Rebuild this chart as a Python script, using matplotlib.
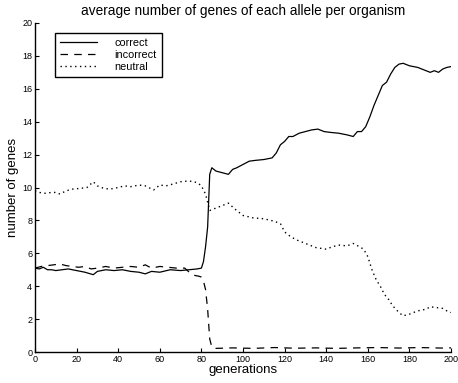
import matplotlib
matplotlib.use("Agg")
import matplotlib.pyplot as plt

# values (generation, average number of genes)
correct_gen = [0, 2, 4, 6, 8, 10, 13, 16, 20, 24, 28, 30, 34, 38, 42, 46, 50, 53, 56, 60,
               65, 70, 74, 78, 80, 81, 82, 83, 84, 85, 87, 90, 93, 95, 97, 100, 103, 106,
               110, 114, 116, 118, 120, 122, 124, 127, 130, 133, 136, 139, 142, 146, 150,
               153, 155, 157, 159, 161, 163, 165, 167, 169, 171, 173, 175, 177, 180, 184,
               188, 190, 192, 194, 196, 198, 200]
correct_val = [5.1, 5.05, 5.15, 5.0, 5.0, 4.95, 5.0, 5.05, 4.95, 4.85, 4.7, 4.9, 5.0, 4.95,
               5.0, 4.9, 4.85, 4.75, 4.9, 4.85, 5.0, 4.95, 5.0, 5.05, 5.1, 5.5, 6.4, 7.6,
               10.8, 11.2, 11.0, 10.9, 10.8, 11.1, 11.2, 11.4, 11.6, 11.65, 11.7, 11.8, 12.1,
               12.6, 12.8, 13.1, 13.1, 13.3, 13.4, 13.5, 13.55, 13.4, 13.35, 13.3, 13.2, 13.1,
               13.4, 13.4, 13.7, 14.3, 15.0, 15.6, 16.2, 16.4, 16.9, 17.3, 17.5, 17.55, 17.4,
               17.3, 17.1, 17.0, 17.1, 17.0, 17.2, 17.3, 17.35]

incorrect_gen = [0, 3, 6, 9, 12, 15, 18, 21, 24, 27, 30, 34, 38, 42, 46, 50, 53, 56, 60, 64,
                 68, 72, 75, 77, 79, 80, 81, 82, 83, 84, 85, 87, 95, 105, 115, 125, 135, 145,
                 155, 165, 175, 185, 195, 200]
incorrect_val = [5.1, 5.2, 5.25, 5.3, 5.35, 5.25, 5.2, 5.15, 5.2, 5.05, 5.1, 5.2, 5.1, 5.15,
                 5.2, 5.15, 5.3, 5.1, 5.2, 5.15, 5.1, 5.1, 4.75, 4.65, 4.6, 4.55, 4.3, 3.8,
                 2.6, 0.8, 0.3, 0.22, 0.25, 0.22, 0.27, 0.23, 0.25, 0.22, 0.25, 0.27, 0.24,
                 0.27, 0.24, 0.25]

neutral_gen = [0, 2, 5, 8, 10, 12, 15, 18, 22, 25, 28, 30, 33, 36, 40, 43, 46, 50, 53, 57,
               60, 63, 66, 70, 74, 78, 80, 82, 83, 84, 86, 90, 93, 96, 100, 105, 110, 115,
               118, 120, 123, 126, 130, 135, 140, 143, 146, 150, 153, 156, 158, 160, 162,
               164, 166, 168, 170, 172, 175, 177, 180, 184, 188, 190, 193, 196, 198, 200]
neutral_val = [9.8, 9.7, 9.65, 9.7, 9.7, 9.6, 9.8, 9.9, 9.95, 10.0, 10.35, 10.1, 9.95, 9.9,
               10.0, 10.1, 10.05, 10.15, 10.1, 9.85, 10.15, 10.1, 10.2, 10.35, 10.4, 10.3,
               10.1, 9.6, 9.1, 8.6, 8.7, 8.9, 9.05, 8.7, 8.3, 8.15, 8.1, 7.95, 7.8, 7.3, 7.0,
               6.8, 6.6, 6.35, 6.25, 6.4, 6.5, 6.45, 6.6, 6.4, 6.25, 5.8, 5.0, 4.4, 4.0, 3.5,
               3.2, 2.8, 2.4, 2.2, 2.3, 2.5, 2.6, 2.75, 2.7, 2.65, 2.5, 2.4]

x_ticks = list(range(0, 201, 20))
y_ticks = list(range(0, 21, 2))

plt.rcParams["font.family"] = ["Liberation Sans", "DejaVu Sans"]

fig = plt.figure(figsize=(4.58, 3.83), dpi=100)
ax = fig.add_axes([35 / 458, 1 - 352 / 383, 416 / 458, 329 / 383])

ax.plot(correct_gen, correct_val, color="black", lw=0.9, linestyle="-", label="correct")
ax.plot(incorrect_gen, incorrect_val, color="black", lw=0.9, linestyle=(0, (6, 5)), label="incorrect")
ax.plot(neutral_gen, neutral_val, color="black", lw=1.0, linestyle=(0, (1, 2.5)), label="neutral")

ax.set_xlim(0, 200)
ax.set_ylim(0, 20)
ax.set_xticks(x_ticks)
ax.set_yticks(y_ticks)
ax.tick_params(direction="in", length=3, labelsize=6.5, width=0.8, pad=2)
for side in ["top", "right"]:
    ax.spines[side].set_visible(False)
for side in ["left", "bottom"]:
    ax.spines[side].set_linewidth(1.0)

ax.set_xlabel("generations", fontsize=9.5, labelpad=0)
ax.set_ylabel("number of genes", fontsize=9.5, labelpad=2)
ax.set_title("average number of genes of each allele per organism", fontsize=9.8, pad=6)

leg = ax.legend(loc="upper left", bbox_to_anchor=(0.048, 0.97), borderaxespad=0,
                fontsize=7.8, handlelength=3.4, handletextpad=1.6, labelspacing=0.15,
                borderpad=0.5, fancybox=False, framealpha=1, edgecolor="black")
leg.get_frame().set_linewidth(1.0)

fig.savefig("out.png", dpi=100)
